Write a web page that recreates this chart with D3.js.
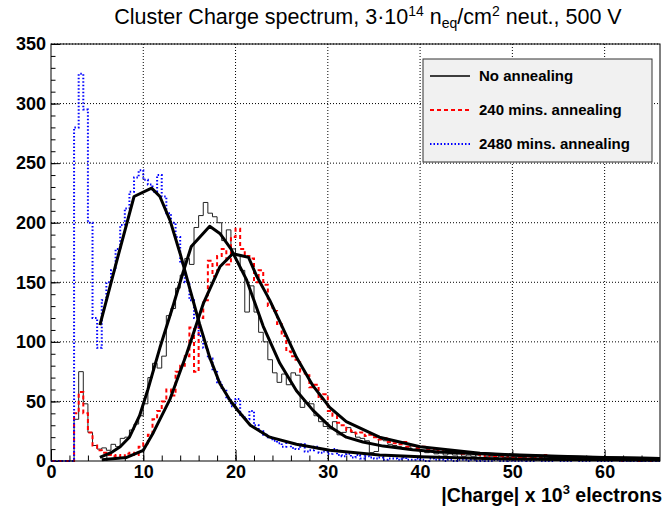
<!DOCTYPE html>
<html>
<head>
<meta charset="utf-8">
<script src="https://cdn.jsdelivr.net/npm/d3@7"></script>
<style>
  body { margin: 0; background: #fff; }
  text { font-family: "Liberation Sans", Arial, Helvetica, sans-serif; }
</style>
</head>
<body>
<script>
// histogram bins, 0.5 x 10^3 electrons wide, first bin starts at 0
var binWidth = 0.5;

var noAnnealing = [
  0, 0, 0, 0, 0, 35, 75, 48, 24, 13,
  10, 11, 9, 14, 12, 19, 20, 26, 31, 38,
  48, 70, 82, 78, 88, 122, 128, 145, 156, 170,
  165, 196, 206, 217, 208, 205, 200, 185, 194, 178,
  173, 160, 125, 147, 125, 108, 100, 85, 74, 66,
  73, 64, 74, 72, 45, 49, 48, 38, 33, 29,
  27, 33, 22, 24, 28, 24, 20, 19, 17, 7,
  8, 18, 17, 14, 13, 12, 11, 12, 9, 10,
  8, 7, 8, 6, 7, 5, 6, 5, 6, 4,
  5, 4, 5, 3, 4, 4, 3, 4, 3, 3,
  3, 2, 3, 2, 3, 2, 2, 4, 2, 2,
  2, 1, 2, 1, 2, 1, 1, 2, 1, 1,
  2, 1, 1, 1, 1, 0, 1, 1, 0, 1,
  1, 0
];

var anneal240 = [
  0, 0, 0, 0, 0, 40, 58, 40, 24, 13,
  9, 7, 5, 4, 5, 3, 6, 7, 5, 12,
  15, 22, 35, 42, 50, 60, 55, 75, 80, 88,
  112, 75, 120, 135, 168, 155, 172, 178, 165, 188,
  195, 178, 172, 170, 150, 160, 148, 130, 126, 115,
  105, 92, 88, 85, 75, 72, 62, 64, 52, 56,
  42, 38, 32, 30, 26, 25, 23, 24, 21, 22,
  20, 18, 19, 16, 15, 14, 16, 12, 13, 11,
  12, 10, 11, 9, 10, 8, 9, 7, 8, 6,
  7, 6, 5, 6, 4, 5, 4, 4, 3, 4,
  3, 3, 4, 2, 3, 2, 3, 5, 4, 2,
  2, 2, 1, 2, 1, 2, 1, 1, 1, 2,
  1, 1, 1, 0, 1, 2, 1, 0, 1, 1,
  0, 1
];

var anneal2480 = [
  0, 0, 0, 0, 0, 280, 325, 295, 200, 120,
  95, 135, 150, 160, 178, 198, 212, 226, 238, 244,
  236, 232, 226, 240, 222, 208, 200, 188, 166, 150,
  135, 120, 105, 95, 86, 76, 66, 60, 52, 46,
  52, 38, 35, 42, 30, 25, 22, 20, 17, 15,
  12, 16, 11, 10, 14, 8, 9, 12, 7, 8,
  6, 10, 5, 4, 6, 3, 5, 2, 4, 3,
  2, 3, 1, 2, 2, 1, 3, 1, 1, 2,
  1, 0, 2, 1, 1, 0, 1, 0, 1, 1,
  0, 1, 0, 1, 0, 0, 1, 0, 0, 1,
  0, 0, 1, 0, 0, 1, 0, 0, 0, 1,
  0, 0, 0, 1, 0, 0, 0, 1, 0, 0,
  0, 0, 1, 0, 0, 0, 0, 1, 0, 0,
  0, 0
];

var fitNoAnnealing = [[5.3, 3], [6.5, 7], [7.5, 12], [8.5, 20], [9.6, 38], [10.5, 60],
  [11.8, 95], [13.3, 132], [14.3, 158], [15.2, 180], [17.2, 197], [18.3, 191],
  [19.5, 178], [21.2, 152], [23, 113], [24.8, 82], [26.6, 59], [28.4, 42.5],
  [30.2, 29], [32, 20], [33.8, 16], [36, 12.5], [39.2, 9.5], [42, 7.5],
  [46.5, 6], [50, 4.8], [55, 3.6], [60, 2.8], [66, 2]];

var fit240 = [[5.5, 1], [8.2, 3], [10, 9], [11.1, 24], [12.9, 52], [14.7, 90],
  [16.5, 132], [18.3, 163], [19.7, 174], [21.4, 171], [22.3, 155], [23.7, 135],
  [24.8, 117], [26.6, 87], [28.4, 63], [30.2, 45], [32, 33], [35.6, 20],
  [40, 12], [46.5, 6.5], [50, 5.2], [55, 4], [60, 3], [66, 2.2]];

var fit2480 = [[5.3, 114], [7.2, 170], [9.0, 222], [10.9, 229], [11.8, 222],
  [12.9, 202], [14.0, 174], [15.1, 143], [16.1, 115], [17.2, 87], [18.3, 65],
  [19.4, 51], [20.3, 42], [21.6, 30], [23.7, 20], [26.6, 14], [30.2, 9],
  [35.6, 5], [40, 3.5], [47, 2], [55, 1.3], [66, 0.8]];

var xTicks = [0, 10, 20, 30, 40, 50, 60];
var yTicks = [0, 50, 100, 150, 200, 250, 300, 350];
var legendLabels = ["No annealing", "240 mins. annealing", "2480 mins. annealing"];

main();

function main() {
  setupCanvasSize();
  appendSvg("body");
  setupScales();
  appendGrid();
  appendAxes();
  appendHistograms();
  appendFits();
  appendFrame();
  addLegend();
  addTitles();
}

function setupCanvasSize() {
  margin = { top: 44, left: 51, bottom: 49, right: 6 };
  width = 666 - margin.left - margin.right;
  height = 510 - margin.top - margin.bottom;
}

function appendSvg(domElement) {
  root = d3.select(domElement).append("svg")
    .attr("width", 666)
    .attr("height", 510);
  svg = root.append("g")
    .attr("transform", `translate(${margin.left}, ${margin.top})`);
}

function setupScales() {
  x = d3.scaleLinear().domain([0, 66]).range([0, width]);
  y = d3.scaleLinear().domain([0, 350]).range([height, 0]);
}

function appendGrid() {
  svg.append("g").selectAll("line")
    .data(xTicks.slice(1))
    .enter().append("line")
    .attr("x1", d => x(d)).attr("x2", d => x(d))
    .attr("y1", 0).attr("y2", height)
    .attr("stroke", "#000").attr("stroke-dasharray", "1,2");
  svg.append("g").selectAll("line")
    .data(yTicks.slice(1))
    .enter().append("line")
    .attr("x1", 0).attr("x2", width)
    .attr("y1", d => y(d)).attr("y2", d => y(d))
    .attr("stroke", "#000").attr("stroke-dasharray", "1,2");
}

function appendAxes() {
  // minor ticks first, then labelled majors (ROOT style: ticks inside)
  svg.append("g")
    .attr("transform", `translate(0, ${height})`)
    .call(d3.axisBottom(x).tickValues(d3.range(0, 66, 2)).tickSizeInner(-5.5).tickSizeOuter(0).tickFormat(""))
    .call(g => g.select(".domain").remove());
  var xg = svg.append("g")
    .attr("transform", `translate(0, ${height})`)
    .call(d3.axisBottom(x).tickValues(xTicks).tickSizeInner(-11).tickSizeOuter(0).tickPadding(4));
  xg.select(".domain").remove();
  xg.selectAll("text").style("font-size", "18px").style("font-weight", "bold")
    .style("font-family", "'Liberation Sans', Arial, sans-serif");

  svg.append("g")
    .call(d3.axisLeft(y).tickValues(d3.range(0, 351, 10)).tickSizeInner(-4.5).tickSizeOuter(0).tickFormat(""))
    .call(g => g.select(".domain").remove());
  var yg = svg.append("g")
    .call(d3.axisLeft(y).tickValues(yTicks).tickSizeInner(-9).tickSizeOuter(0).tickPadding(5));
  yg.select(".domain").remove();
  yg.selectAll("text").style("font-size", "18px").style("font-weight", "bold")
    .style("font-family", "'Liberation Sans', Arial, sans-serif");
}

function stepPoints(values) {
  var pts = values.map((v, i) => [i * binWidth, v]);
  pts.push([values.length * binWidth, values[values.length - 1]]);
  return pts;
}

function appendHistograms() {
  var step = d3.line()
    .x(d => x(d[0]))
    .y(d => y(d[1]))
    .curve(d3.curveStepAfter);

  svg.append("path")
    .attr("d", step(stepPoints(noAnnealing)))
    .attr("fill", "none").attr("stroke", "#222").attr("stroke-width", 1);
  svg.append("path")
    .attr("d", step(stepPoints(anneal240)))
    .attr("fill", "none").attr("stroke", "#ff0000").attr("stroke-width", 2)
    .attr("stroke-dasharray", "4,3");
  svg.append("path")
    .attr("d", step(stepPoints(anneal2480)))
    .attr("fill", "none").attr("stroke", "#0000ff").attr("stroke-width", 2)
    .attr("stroke-dasharray", "1.5,2");
}

function appendFits() {
  var line = d3.line()
    .x(d => x(d[0]))
    .y(d => y(d[1]));
  [fitNoAnnealing, fit240, fit2480].forEach(function (f) {
    svg.append("path")
      .attr("d", line(f))
      .attr("fill", "none").attr("stroke", "#000").attr("stroke-width", 3)
      .attr("stroke-linejoin", "round");
  });
}

function appendFrame() {
  svg.append("rect")
    .attr("x", 0).attr("y", 0)
    .attr("width", width).attr("height", height)
    .attr("fill", "none").attr("stroke", "#000").attr("stroke-width", 1);
}

function addLegend() {
  var lg = root.append("g").attr("transform", "translate(423, 59)");
  lg.append("rect")
    .attr("width", 229).attr("height", 103)
    .attr("fill", "#f1f1f1").attr("stroke", "#333").attr("stroke-width", 1);
  var styles = [
    { color: "#000", width: 1.5, dash: null },
    { color: "#ff0000", width: 2, dash: "4,3" },
    { color: "#0000ff", width: 2, dash: "1.5,2" }
  ];
  var rows = [17, 51, 85];
  legendLabels.forEach(function (label, i) {
    lg.append("line")
      .attr("x1", 7).attr("x2", 47)
      .attr("y1", rows[i]).attr("y2", rows[i])
      .attr("stroke", styles[i].color).attr("stroke-width", styles[i].width)
      .attr("stroke-dasharray", styles[i].dash);
    lg.append("text")
      .attr("x", 56).attr("y", rows[i]).attr("dy", "0.35em")
      .style("font-size", "15px").style("font-weight", "bold")
      .text(label);
  });
}

function addTitles() {
  var title = root.append("text")
    .attr("x", 368).attr("y", 24)
    .attr("text-anchor", "middle")
    .style("font-size", "21.5px");
  title.append("tspan").text("Cluster Charge spectrum, 3\u00b710");
  title.append("tspan").attr("dy", -8).style("font-size", "14px").text("14");
  title.append("tspan").attr("dy", 8).text(" n");
  title.append("tspan").attr("dy", 4).style("font-size", "14px").text("eq");
  title.append("tspan").attr("dy", -4).text("/cm");
  title.append("tspan").attr("dy", -8).style("font-size", "14px").text("2");
  title.append("tspan").attr("dy", 8).text(" neut., 500 V");

  var xt = root.append("text")
    .attr("x", 662).attr("y", 502)
    .attr("text-anchor", "end")
    .style("font-size", "19.5px").style("font-weight", "bold");
  xt.append("tspan").text("|Charge| x 10");
  xt.append("tspan").attr("dy", -8).style("font-size", "13px").text("3");
  xt.append("tspan").attr("dy", 8).text(" electrons");
}
</script>
</body>
</html>
